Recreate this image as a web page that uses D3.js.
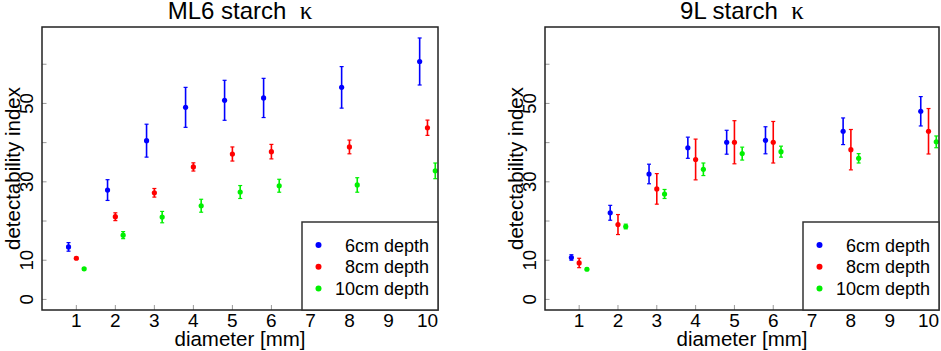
<!DOCTYPE html>
<html lang="en">
<head>
    <meta charset="UTF-8">
    <title>Detectability index vs diameter</title>
    <script src="https://cdnjs.cloudflare.com/ajax/libs/d3/7.8.5/d3.min.js"></script>
    <style>
        body { margin: 0; background: white; }
        svg { display: block; font-family: "Liberation Sans", Arial, sans-serif; }
    </style>
</head>
<body>
    <div id="chart"></div>

    <script>
        // Data
        const diameters = [1, 2, 3, 4, 5, 6, 8, 10];
        const depths = ["6cm depth", "8cm depth", "10cm depth"];
        const xTicks = [1, 2, 3, 4, 5, 6, 7, 8, 9, 10];
        const yTicks = [0, 10, 20, 30, 40, 50, 60];
        const yTickLabels = ["0", "10", "", "30", "", "50", ""];

        // ML6 starch: mean and error half-width per depth
        const ml6_6cm = [13.4, 27.9, 40.5, 49.0, 50.8, 51.4, 54.1, 60.7];
        const ml6_6cm_err = [1.1, 2.65, 4.2, 5.1, 5.1, 5.0, 5.3, 6.0];
        const ml6_8cm = [10.5, 21.1, 27.2, 33.8, 37.1, 37.7, 38.9, 43.8];
        const ml6_8cm_err = [0.3, 1.0, 1.1, 1.05, 1.8, 1.85, 1.75, 1.95];
        const ml6_10cm = [7.8, 16.4, 21.0, 23.9, 27.4, 29.0, 29.2, 32.8];
        const ml6_10cm_err = [0.3, 0.9, 1.45, 1.65, 1.65, 1.65, 1.85, 2.0];

        // 9L starch
        const l9_6cm = [10.7, 22.1, 32.0, 38.7, 40.1, 40.6, 42.9, 48.0];
        const l9_6cm_err = [0.7, 1.9, 2.5, 2.7, 3.05, 3.45, 3.4, 3.75];
        const l9_8cm = [9.3, 19.1, 28.2, 35.7, 40.1, 40.1, 38.2, 42.9];
        const l9_8cm_err = [1.2, 2.55, 3.9, 5.2, 5.5, 5.3, 5.15, 5.8];
        const l9_10cm = [7.7, 18.6, 26.9, 33.2, 37.2, 37.7, 36.0, 40.2];
        const l9_10cm_err = [0.3, 0.6, 1.15, 1.6, 1.65, 1.4, 1.2, 1.5];

        const panels = [
            { title: "ML6 starch", left: 42, right: 438,
              means: [ml6_6cm, ml6_8cm, ml6_10cm], errs: [ml6_6cm_err, ml6_8cm_err, ml6_10cm_err] },
            { title: "9L starch", left: 545, right: 939,
              means: [l9_6cm, l9_8cm, l9_10cm], errs: [l9_6cm_err, l9_8cm_err, l9_10cm_err] }
        ];

        const colors = ["#0000ff", "#ff0000", "#00f000"];
        const dodge = [-0.2, 0, 0.2];

        const width = 941, height = 351;
        const plotTop = 27, plotBottom = 310;

        const svg = d3.select("#chart").append("svg")
            .attr("width", width)
            .attr("height", height);

        const y = d3.scaleLinear().domain([-2.7, 69.5]).range([plotBottom, plotTop]);

        panels.forEach(p => {
            const x = d3.scaleLinear().domain([0.12, 10.27]).range([p.left, p.right]);
            const g = svg.append("g");

            // title, with the kappa in a serif face
            const t = g.append("text")
                .attr("x", (p.left + p.right) / 2)
                .attr("y", 19)
                .attr("text-anchor", "middle")
                .style("font-size", "24px")
                .style("white-space", "pre");
            t.append("tspan").text(p.title + "  ");
            t.append("tspan")
                .style("font-family", "'Liberation Serif', serif")
                .style("font-size", "25px")
                .text("\u03BA");

            // ticks inside the frame
            g.selectAll("line.ytick").data(yTicks).enter().append("line")
                .attr("x1", p.left).attr("x2", p.left + 4.5)
                .attr("y1", d => y(d)).attr("y2", d => y(d))
                .attr("stroke", "#999").attr("stroke-width", 1);

            g.selectAll("line.xtick").data(xTicks).enter().append("line")
                .attr("x1", d => x(d)).attr("x2", d => x(d))
                .attr("y1", plotBottom).attr("y2", plotBottom - 5)
                .attr("stroke", "#999").attr("stroke-width", 1);

            // y tick labels (rotated, as in R)
            g.selectAll("text.ylab").data(yTicks).enter().append("text")
                .attr("transform", d => `translate(${p.left - 9},${y(d)}) rotate(-90)`)
                .attr("text-anchor", "middle")
                .style("font-size", "18.5px")
                .text((d, i) => yTickLabels[i]);

            // x tick labels
            g.selectAll("text.xlab").data(xTicks).enter().append("text")
                .attr("x", d => x(d))
                .attr("y", 327)
                .attr("text-anchor", "middle")
                .style("font-size", "19px")
                .text(d => d);

            // axis titles
            g.append("text")
                .attr("x", (p.left + p.right) / 2)
                .attr("y", 346)
                .attr("text-anchor", "middle")
                .style("font-size", "20.5px")
                .text("diameter [mm]");

            g.append("text")
                .attr("transform", `translate(${p.left - 22},${(plotTop + plotBottom) / 2}) rotate(-90)`)
                .attr("text-anchor", "middle")
                .style("font-size", "20.5px")
                .text("detectability index");

            // error bars and points
            depths.forEach((dep, k) => {
                const rows = diameters.map((d, i) => ({
                    x: x(d + dodge[k]),
                    m: p.means[k][i],
                    e: p.errs[k][i]
                }));
                const s = g.append("g")
                    .attr("stroke", colors[k])
                    .attr("fill", colors[k]);

                s.selectAll("line.bar").data(rows).enter().append("line")
                    .attr("x1", d => d.x).attr("x2", d => d.x)
                    .attr("y1", d => y(d.m - d.e)).attr("y2", d => y(d.m + d.e))
                    .attr("stroke-width", 1.6);

                s.selectAll("line.capTop").data(rows).enter().append("line")
                    .attr("x1", d => d.x - 2).attr("x2", d => d.x + 2)
                    .attr("y1", d => y(d.m + d.e)).attr("y2", d => y(d.m + d.e))
                    .attr("stroke-width", 1.2);

                s.selectAll("line.capBot").data(rows).enter().append("line")
                    .attr("x1", d => d.x - 2).attr("x2", d => d.x + 2)
                    .attr("y1", d => y(d.m - d.e)).attr("y2", d => y(d.m - d.e))
                    .attr("stroke-width", 1.2);

                s.selectAll("circle").data(rows).enter().append("circle")
                    .attr("cx", d => d.x).attr("cy", d => y(d.m))
                    .attr("r", 2.6)
                    .attr("stroke", "none");
            });

            // frame
            g.append("rect")
                .attr("x", p.left).attr("y", plotTop)
                .attr("width", p.right - p.left).attr("height", plotBottom - plotTop)
                .attr("fill", "none")
                .attr("stroke", "#222")
                .attr("stroke-width", 1.5);

            // legend
            const lgLeft = p.right - 136, lgTop = 222;
            const lg = g.append("g");
            lg.append("rect")
                .attr("x", lgLeft).attr("y", lgTop)
                .attr("width", p.right - lgLeft).attr("height", plotBottom - lgTop)
                .attr("fill", "white")
                .attr("stroke", "#333")
                .attr("stroke-width", 1.5);

            const items = lg.selectAll("g.item").data(depths).enter().append("g")
                .attr("transform", (d, i) => `translate(0,${245 + i * 21.7})`);

            items.append("circle")
                .attr("cx", lgLeft + 16.5).attr("cy", 0)
                .attr("r", 3)
                .attr("fill", (d, i) => colors[i]);

            items.append("text")
                .attr("x", p.right - 9)
                .attr("y", 6.5)
                .attr("text-anchor", "end")
                .style("font-size", "18px")
                .text(d => d);
        });
    </script>
</body>
</html>
